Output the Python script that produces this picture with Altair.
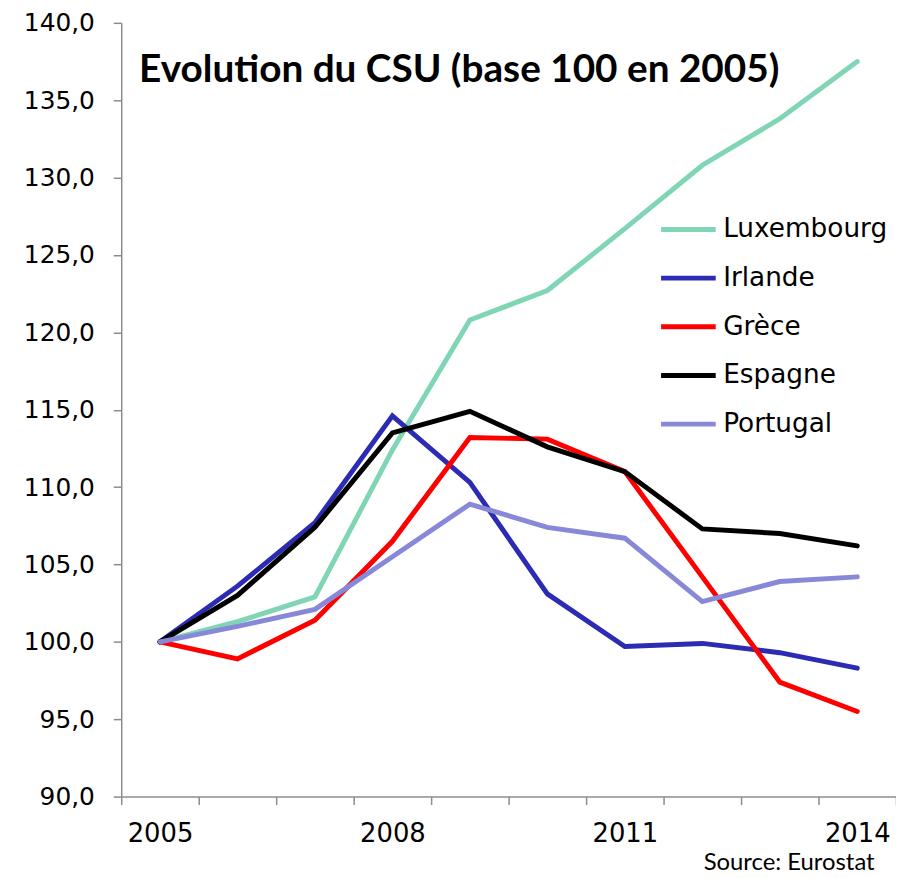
import altair as alt
import pandas as pd

years = list(range(2005, 2015))
countries = ["Luxembourg", "Irlande", "Grèce", "Espagne", "Portugal"]
luxembourg = [100.0, 101.3, 102.9, 112.4, 120.8, 122.7, 126.7, 130.8, 133.8, 137.5]
irlande = [100.0, 103.6, 107.7, 114.6, 110.3, 103.1, 99.7, 99.9, 99.3, 98.3]
grece = [100.0, 98.9, 101.4, 106.5, 113.2, 113.1, 111.0, 104.2, 97.4, 95.5]
espagne = [100.0, 103.0, 107.4, 113.5, 114.9, 112.6, 111.0, 107.3, 107.0, 106.2]
portugal = [100.0, 101.0, 102.1, 105.5, 108.9, 107.4, 106.7, 102.6, 103.9, 104.2]
colors = ["#80D6B4", "#2B2BB3", "#FF0000", "#000000", "#8888D8"]
y_ticks = [90, 95, 100, 105, 110, 115, 120, 125, 130, 135, 140]
x_labels = [2005, 2008, 2011, 2014]
x_edges = [y - 0.5 for y in years] + [years[-1] + 0.5]

series = [luxembourg, irlande, grece, espagne, portugal]
rows = []
for name, vals in zip(countries, series):
    for yr, v in zip(years, vals):
        rows.append({"country": name, "year": yr, "value": v})
df = pd.DataFrame(rows)

axis_gray = "#8C8C8C"
label_list = "[" + ",".join(str(v) for v in x_labels) + "]"

chart = alt.Chart(df).mark_line(strokeWidth=5, strokeCap="round").encode(
    x=alt.X(
        "year:Q",
        scale=alt.Scale(domain=[x_edges[0], x_edges[-1]], nice=False, zero=False),
        axis=alt.Axis(
            values=x_edges,
            labelExpr=f"indexof({label_list}, datum.value + 0.5) >= 0 ? '' + (datum.value + 0.5) : ''",
            labelOffset=39,
            labelOverlap=False,
            labelFlush=False,
            tickSize=8,
            labelPadding=16,
            labelFont="DejaVu Sans",
            labelFontSize=26,
            labelColor="black",
            grid=False,
            domainColor=axis_gray,
            tickColor=axis_gray,
            domainWidth=1.5,
            tickWidth=1.5,
            title="Source: Eurostat",
            titleFont="Lato",
            titleFontSize=24,
            titleFontWeight="normal",
            titleColor="black",
            titleAnchor="end",
            titleAlign="right",
            titleBaseline="alphabetic",
            titleX=758,
            titleY=73,
        ),
    ),
    y=alt.Y(
        "value:Q",
        scale=alt.Scale(domain=[90, 140], nice=False, zero=False),
        axis=alt.Axis(
            values=y_ticks,
            labelExpr="replace(format(datum.value, '.1f'), '.', ',')",
            tickSize=8,
            labelPadding=19,
            labelFont="DejaVu Sans",
            labelFontSize=25,
            labelColor="black",
            grid=False,
            domainColor=axis_gray,
            tickColor=axis_gray,
            domainWidth=1.5,
            tickWidth=1.5,
            title=None,
        ),
    ),
    color=alt.Color(
        "country:N",
        scale=alt.Scale(domain=countries, range=colors),
        legend=alt.Legend(
            orient="none",
            legendX=541,
            legendY=178,
            title=None,
            symbolType="stroke",
            symbolSize=3025,
            symbolStrokeWidth=5,
            labelFont="DejaVu Sans",
            labelFontSize=26.5,
            labelColor="black",
            labelOffset=5,
            labelLimit=0,
            rowPadding=5,
            padding=0,
        ),
    ),
).properties(
    width=780,
    height=779,
    title=alt.TitleParams(
        "Evolution du CSU (base 100 en 2005)",
        font="Lato",
        fontSize=39,
        fontWeight="bold",
        color="black",
        anchor="start",
        frame="group",
        baseline="alphabetic",
        offset=0,
        dx=18,
        dy=111,
    ),
    autosize=alt.AutoSizeParams(type="none"),
    padding={"left": 114, "top": 12, "right": 0, "bottom": 78},
).configure_view(stroke=None)

chart.save("out.html", embed_options={"renderer": "svg", "actions": False})
